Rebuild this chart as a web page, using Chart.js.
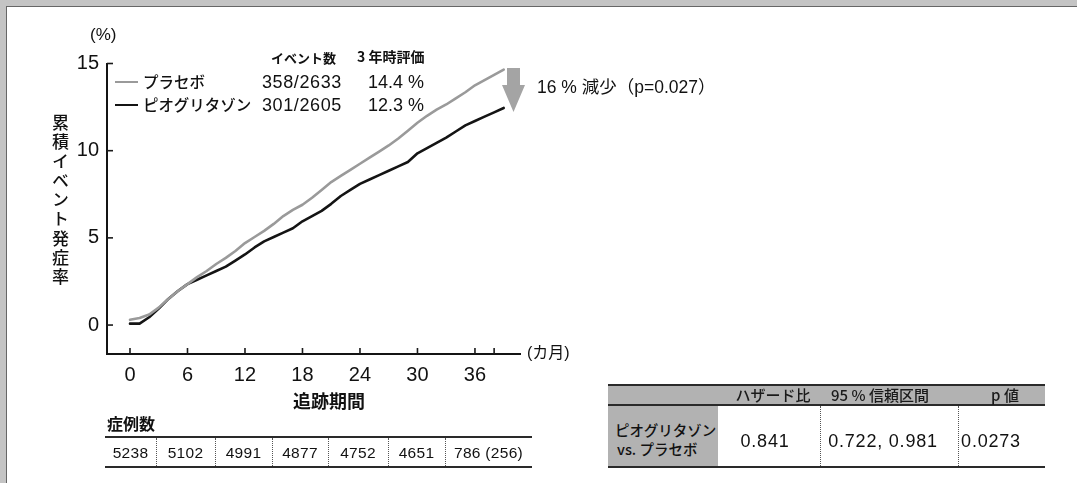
<!DOCTYPE html>
<html lang="ja">
<head>
<meta charset="utf-8">
<title>累積イベント発症率</title>
<script src="https://cdn.jsdelivr.net/npm/chart.js@4.4.1/dist/chart.umd.min.js"></script>
<style>
  html, body { margin: 0; padding: 0; background: #fff; }
  #wrap {
    position: relative; width: 1077px; height: 483px; overflow: hidden; background: #fff;
    font-family: "Liberation Sans", "Noto Sans CJK JP", sans-serif; color: #111;
  }
  #frameTop { position: absolute; left: 0; top: 0; width: 1077px; height: 6px; background: #c4c4c4; }
  #frameLeft { position: absolute; left: 0; top: 0; width: 6px; height: 483px; background: #c4c4c4; }
  #frameLineH { position: absolute; left: 6px; top: 6px; width: 1071px; height: 1px; background: #666; }
  #frameLineV { position: absolute; left: 6px; top: 6px; width: 1px; height: 477px; background: #666; }
  canvas { position: absolute; left: 0; top: 0; }
  .t { position: absolute; white-space: nowrap; line-height: 1; transform: translateY(-50%); }
  .c { position: absolute; white-space: nowrap; line-height: 1; transform: translate(-50%, -50%); }
  .jp { font-family: "Noto Sans CJK JP", sans-serif; }
  .m { font-weight: 500; }
  .b { font-weight: bold; }
  #ytitle {
    position: absolute; left: 52px; top: 114px; writing-mode: vertical-rl; text-orientation: upright;
    font-family: "Noto Sans CJK JP", sans-serif; font-size: 17px; font-weight: 500; letter-spacing: 2.3px; line-height: 1;
  }
  .legline { position: absolute; height: 2.5px; }
  .hline { position: absolute; height: 2px; background: #2a2a2a; }
  .vdot { position: absolute; width: 0; border-left: 1px dotted #555; }
  .band { position: absolute; background: #b2b2b2; }
</style>
</head>
<body>
<div id="wrap">
  <div id="frameTop"></div><div id="frameLeft"></div>
  <div id="frameLineH"></div><div id="frameLineV"></div>
  <canvas id="km" width="1077" height="483"></canvas>
  <div id="overlay"></div>
</div>
<script>
// Follow-up months and cumulative event rates (%) for each arm
const months = [0,1,2,3,4,5,6,7,8,9,10,11,12,13,14,15,16,17,18,19,20,21,22,23,24,25,26,27,28,29,30,31,32,33,34,35,36,37,38,39];
const placeboRate = [0.3,0.4,0.6,1.0,1.5,1.95,2.35,2.75,3.1,3.5,3.85,4.25,4.7,5.05,5.4,5.8,6.25,6.6,6.9,7.3,7.75,8.2,8.55,8.9,9.25,9.6,9.95,10.3,10.7,11.15,11.6,12.0,12.35,12.65,13.0,13.35,13.75,14.05,14.35,14.65];
const pioglitazoneRate = [0.08,0.08,0.45,0.95,1.5,1.95,2.35,2.6,2.85,3.1,3.35,3.7,4.05,4.45,4.8,5.05,5.3,5.55,5.95,6.25,6.55,6.95,7.4,7.75,8.1,8.35,8.6,8.85,9.1,9.35,9.85,10.15,10.45,10.75,11.1,11.45,11.7,11.95,12.2,12.45];

// Axis ticks
const xTickValues = [0, 6, 12, 18, 24, 30, 36];
const xMinorTickValues = [38];
const yTickValues = [0, 5, 10, 15];

// Legend table
const seriesNames = ['プラセボ', 'ピオグリタゾン'];
const eventCounts = ['358/2633', '301/2605'];
const threeYearRates = ['14.4 %', '12.3 %'];
const reductionNote = '16 % 減少（p=0.027）';

// Patients at risk
const atRiskCounts = ['5238', '5102', '4991', '4877', '4752', '4651', '786 (256)'];

// Hazard ratio summary
const hrHeaders = ['ハザード比', '95 % 信頼区間', 'p 値'];
const hrRowLabel = ['ピオグリタゾン', 'vs. プラセボ'];
const hrValues = ['0.841', '0.722, 0.981', '0.0273'];

const seriesColors = ['#9a9a9a', '#141414'];

// Inward tick marks on both axes
const inwardTicks = {
  id: 'inwardTicks',
  afterDraw(chart) {
    const { ctx, scales: { x, y }, chartArea } = chart;
    ctx.save();
    ctx.strokeStyle = '#1a1a1a';
    ctx.lineWidth = 1.6;
    yTickValues.forEach(v => {
      const py = y.getPixelForValue(v);
      ctx.beginPath(); ctx.moveTo(chartArea.left, py); ctx.lineTo(chartArea.left + 6, py); ctx.stroke();
    });
    xTickValues.concat(xMinorTickValues).forEach(v => {
      const px = x.getPixelForValue(v);
      ctx.beginPath(); ctx.moveTo(px, chartArea.bottom); ctx.lineTo(px, chartArea.bottom - 6); ctx.stroke();
    });
    ctx.restore();
  }
};

new Chart(document.getElementById('km'), {
  type: 'line',
  data: {
    datasets: [
      { label: seriesNames[0], data: months.map((m, i) => ({ x: m, y: placeboRate[i] })),
        borderColor: seriesColors[0], borderWidth: 2.6 },
      { label: seriesNames[1], data: months.map((m, i) => ({ x: m, y: pioglitazoneRate[i] })),
        borderColor: seriesColors[1], borderWidth: 2.6 }
    ]
  },
  options: {
    responsive: false,
    animation: false,
    devicePixelRatio: 1,
    layout: { padding: { left: 0, top: 63.5, right: 557, bottom: 0 } },
    elements: { point: { radius: 0 }, line: { tension: 0, borderJoinStyle: 'round', borderCapStyle: 'round' } },
    plugins: { legend: { display: false }, tooltip: { enabled: false } },
    scales: {
      x: {
        type: 'linear', min: -2.4, max: 40.7,
        afterBuildTicks: s => { s.ticks = xTickValues.map(v => ({ value: v })); },
        afterFit: s => { s.height = 129; },
        grid: { display: true, drawOnChartArea: false, drawTicks: false, color: 'rgba(0,0,0,0)' },
        border: { display: true, color: '#141414', width: 2 },
        ticks: { padding: 9, color: '#111', font: { family: 'Liberation Sans', size: 20 }, maxRotation: 0 }
      },
      y: {
        type: 'linear', min: -1.66, max: 15,
        afterBuildTicks: s => { s.ticks = yTickValues.map(v => ({ value: v })); },
        afterFit: s => { s.width = 107; },
        grid: { display: true, drawOnChartArea: false, drawTicks: false, color: 'rgba(0,0,0,0)' },
        border: { display: true, color: '#141414', width: 2 },
        ticks: { padding: 8, color: '#111', font: { family: 'Liberation Sans', size: 20 } }
      }
    }
  },
  plugins: [inwardTicks]
});

// Text, legend and tables around the plot
const overlay = document.getElementById('overlay');
function add(html, cls, style) {
  const d = document.createElement('div');
  d.className = cls;
  d.setAttribute('style', style);
  d.innerHTML = html;
  overlay.appendChild(d);
  return d;
}

add('累積イベント発症率', '', '').id = 'ytitle';
add('(%)', 't', 'left:90px;top:34px;font-size:17px;');
add('(カ月)', 't', 'left:527px;top:353px;font-size:16px;');
add('イベント数', 't jp b', 'left:271px;top:57px;font-size:13px;');
add('3 年時評価', 't jp b', 'left:357px;top:56px;font-size:14px;');

const legendY = [82, 105];
seriesNames.forEach((name, i) => {
  add('', 'legline', `left:115px;top:${legendY[i] - 1.25}px;width:23px;background:${seriesColors[i]};`);
  add(name, 't jp m', `left:143px;top:${legendY[i]}px;font-size:15.5px;`);
  add(eventCounts[i], 't', `left:262px;top:${legendY[i]}px;font-size:18px;letter-spacing:0.6px;`);
  add(threeYearRates[i], 't', `left:368px;top:${legendY[i]}px;font-size:18px;`);
});

// Downward arrow showing the reduction
add('<svg width="30" height="50" viewBox="0 0 30 50"><polygon points="6,0 19,0 19,17 24,17 12.5,44 1,17 6,17" fill="#a4a4a4"/></svg>',
  '', 'position:absolute;left:501px;top:68px;');
add(reductionNote, 't', 'left:537px;top:88px;font-size:17.5px;');

// Follow-up label and patients-at-risk row
add('追跡期間', 't jp b', 'left:293px;top:400px;font-size:18px;');
add('症例数', 't jp b', 'left:107px;top:423px;font-size:16px;');
const riskEdges = [105, 156, 215, 272, 328, 388, 445, 532];
add('', 'hline', 'left:105px;top:436px;width:427px;');
add('', 'hline', 'left:105px;top:466px;width:427px;');
atRiskCounts.forEach((v, i) => {
  const cx = (riskEdges[i] + riskEdges[i + 1]) / 2;
  add(v, 'c', `left:${cx}px;top:453px;font-size:15.5px;letter-spacing:0.3px;`);
  if (i > 0) add('', 'vdot', `left:${riskEdges[i]}px;top:438px;height:28px;`);
});

// Hazard ratio table
add('', 'band', 'left:608px;top:386px;width:437px;height:18px;');
add('', 'band', 'left:608px;top:405px;width:110px;height:61px;');
add('', 'hline', 'left:608px;top:384px;width:437px;');
add('', 'hline', 'left:608px;top:404px;width:437px;height:1.5px;');
add('', 'hline', 'left:608px;top:466px;width:437px;');
const headerCx = [773, 880, 1005];
hrHeaders.forEach((h, i) => {
  add(h, 'c jp m', `left:${headerCx[i]}px;top:394px;font-size:15px;color:#1a1a1a;`);
});
add(hrRowLabel[0], 't jp m', 'left:615px;top:430px;font-size:14.5px;');
add(hrRowLabel[1], 't jp m', 'left:617px;top:449px;font-size:14.5px;');
const valueCx = [765, 883, 991];
hrValues.forEach((v, i) => {
  add(v, 'c', `left:${valueCx[i]}px;top:441px;font-size:18px;letter-spacing:0.8px;`);
});
add('', 'vdot', 'left:820px;top:406px;height:60px;');
add('', 'vdot', 'left:958px;top:406px;height:60px;');
</script>
</body>
</html>
